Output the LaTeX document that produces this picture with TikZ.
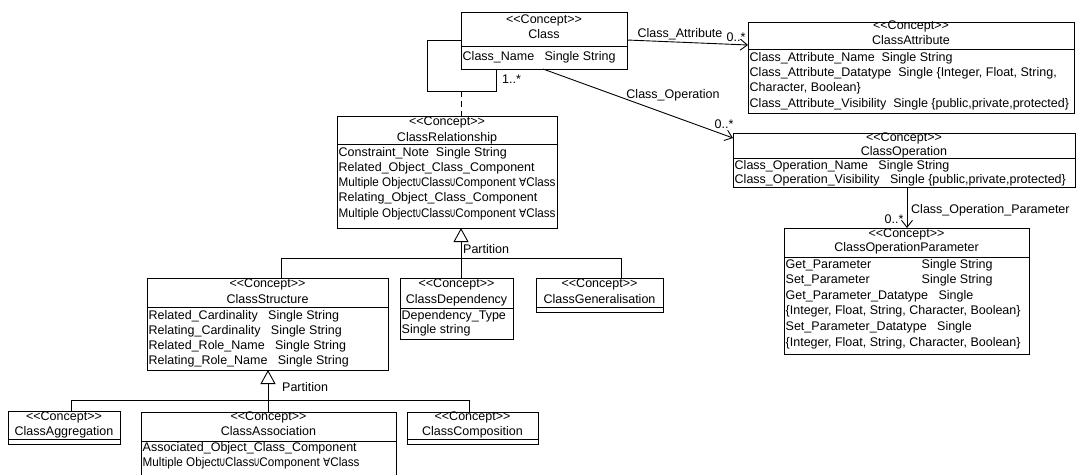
\documentclass[tikz,border=0pt]{standalone}
\usepackage{fontspec}
\usepackage{graphicx}
\setmainfont{Liberation Sans}
\newfontfamily\dvs{DejaVu Sans}
\usetikzlibrary{arrows.meta,fit}
\newcommand\fa{{\dvs\scalebox{0.9}{∀}}}
\newcommand\un{{\dvs\kern-0.8pt\scalebox{0.72}[1.05]{∪}\kern-0.3pt}}
\newcommand\multrow{\scalebox{0.935}[1]{Multiple Object\un Class\un Component \fa Class}}
\newcommand\stereo{<{}<Concept>{}>}
\tikzset{
  ln/.style={line width=0.9pt, draw=black},
  box/.style={draw, line width=0.9pt, inner sep=0pt, outer sep=0pt},
  ttl/.style={inner sep=0pt, text height=9pt, text depth=3pt, anchor=center},
  row/.style={inner sep=0pt, text height=9pt, text depth=3pt, anchor=west},
  lbl/.style={inner sep=0pt, text height=9pt, text depth=3pt},
  assoc/.style={line width=0.9pt, -{Straight Barb[length=7pt,width=11pt]}},
  gener/.style={line width=0.9pt, -{Triangle[open,length=14pt,width=15pt]}},
}
\newcommand\umlclass[9]{%
  \node[box, fit={(#2,#3) (#4,#6)}] (#1) {};
  \draw[ln] (#2,#5) -- (#4,#5);
  \node[ttl] (#1-st) at ({(#2+#4)/2},#7) {\stereo};
  \node[ttl] (#1-nm) at ({(#2+#4)/2},#8) {#9};
}
\newcommand\umlrows[5]{%
  \foreach \rw [count=\i] in {#5} {\node[row] (#1-r\i) at (#2,{#3+#4*(\i-1)}) {\rw};}
}
\begin{document}
\begin{tikzpicture}[x=1pt, y=-1pt, font=\fontsize{12.5}{15}\selectfont]
\useasboundingbox (0,0) rectangle (1078,474);
\clip (0,0) rectangle (1078,474);

% classes
\umlclass{cls}{461}{12}{627}{46}{69}{20}{35}{Class}
\umlrows{cls}{462.5}{57}{15}{{Class\_Name\ \ \ Single String}}

\umlclass{attr}{748}{22}{1074}{49}{113}{26}{41}{ClassAttribute}
\umlrows{attr}{749.5}{58}{15.4}{{Class\_Attribute\_Name\ \ Single String},{Class\_Attribute\_Datatype\ \ Single \{Integer, Float, String,},{Character, Boolean\}},{Class\_Attribute\_Visibility\ \ Single \{public,private,protected\}}}

\umlclass{oper}{733}{133}{1075}{158}{187}{138}{152}{ClassOperation}
\umlrows{oper}{734.5}{166}{14}{{Class\_Operation\_Name\ \ \ Single String},{Class\_Operation\_Visibility\ \ \ Single \{public,private,protected\}}}

\umlclass{param}{784}{228}{1029}{257}{354}{234}{248}{ClassOperationParameter}
\umlrows{param}{785.5}{265}{15.6}{{\makebox[136pt][l]{Get\_Parameter}Single String},{\makebox[136pt][l]{Set\_Parameter}Single String},{Get\_Parameter\_Datatype\ \ \ Single},{\{Integer, Float, String, Character, Boolean\}},{Set\_Parameter\_Datatype\ \ \ Single},{\{Integer, Float, String, Character, Boolean\}}}

\umlclass{rel}{337}{116}{557}{144}{228}{122}{138}{ClassRelationship}
\umlrows{rel}{338.5}{153}{15.3}{{Constraint\_Note\ \ Single String},{Related\_Object\_Class\_Component},{\multrow},{Relating\_Object\_Class\_Component},{\multrow}}

\umlclass{struct}{147}{278}{388}{307}{370}{284}{300}{ClassStructure}
\umlrows{struct}{148.5}{316}{15}{{Related\_Cardinality\ \ \ Single String},{Relating\_Cardinality\ \ \ Single String},{Related\_Role\_Name\ \ \ Single String},{Relating\_Role\_Name\ \ \ Single String}}

\umlclass{dep}{400}{278}{513}{308}{339}{284}{300}{ClassDependency}
\umlrows{dep}{401.5}{316}{14.5}{{Dependency\_Type},{Single string}}

\umlclass{gen}{536}{278}{663}{307}{312}{284}{300}{ClassGeneralisation}

\umlclass{aggr}{8}{411}{120}{439}{444}{417}{432}{ClassAggregation}
\umlclass{asc}{141}{412}{396}{441}{490}{417}{432}{ClassAssociation}
\umlrows{asc}{142.5}{448}{15}{{Associated\_Object\_Class\_Component},{\multrow}}
\umlclass{comp}{407}{412}{538}{439}{444}{417}{432}{ClassComposition}

% self loop of Class with association class ClassRelationship
\draw[ln] (cls.west |- 0,40) -| (427,91) -| (cls.south -| 496,0);
\coordinate (loopmid) at (461,91);
\draw[ln, dash pattern=on 6pt off 4pt] (loopmid) -- (rel.north -| loopmid);
\node[lbl, anchor=west] (m1) at (502,80) {1..*};

% associations
\draw[assoc] (cls.east |- 0,40) -- (attr.west |- 0,45);
\node[lbl] (la) at (680,34) {Class\_Attribute};
\node[lbl] (ma) at (736,38) {0..*};

\draw[assoc] (cls.south -| 543,0) -- (oper.west |- 0,138);
\node[lbl] (lo) at (673,95) {Class\_Operation};
\node[lbl] (mo) at (724,125) {0..*};

\draw[assoc] (oper.south -| 907,0) -- (param.north -| 907,0);
\node[lbl, anchor=west] (lp) at (911,210) {Class\_Operation\_Parameter};
\node[lbl] (mp) at (894,220) {0..*};

% generalisation 1
\coordinate (g1) at (461,258);
\draw[gener] (g1) -- (rel.south -| g1);
\draw[ln] (struct.north -| 281,0) -- (281,258) -- (621,258) -- (gen.north -| 621,0);
\draw[ln] (g1) -- (dep.north -| g1);
\node[lbl, anchor=west] (p1) at (463,250) {Partition};

% generalisation 2
\coordinate (g2) at (268,400);
\draw[gener] (g2) -- (struct.south -| g2);
\draw[ln] (aggr.north -| 71,0) -- (71,400) -- (469,400) -- (comp.north -| 469,0);
\draw[ln] (g2) -- (asc.north -| g2);
\node[lbl, anchor=west] (p2) at (282,388) {Partition};
\end{tikzpicture}
\end{document}
